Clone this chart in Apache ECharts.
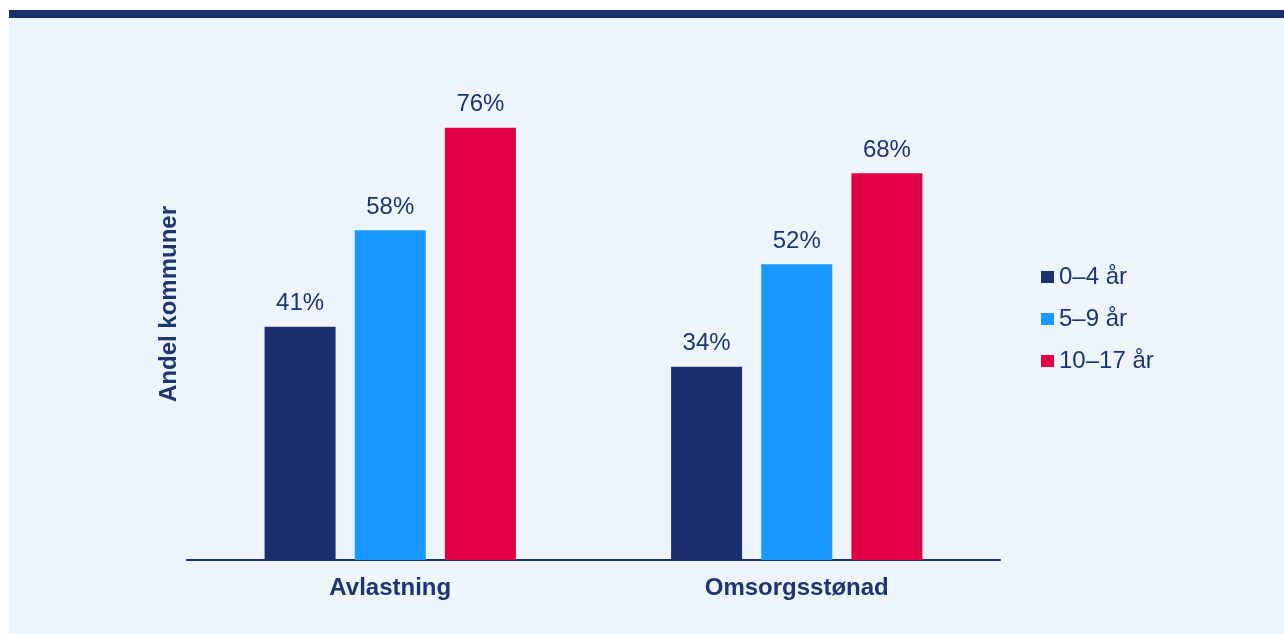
<!DOCTYPE html>
<html>
<head>
<meta charset="utf-8">
<script src="https://cdn.jsdelivr.net/npm/echarts@6/dist/echarts.min.js"></script>
<style>
  html, body { margin: 0; padding: 0; background: #ffffff; }
  #chart { width: 1284px; height: 634px; }
</style>
</head>
<body>
<div id="chart"></div>
<script>
const categories = ['Avlastning', 'Omsorgsstønad'];
const seriesNames = ['0–4 år', '5–9 år', '10–17 år'];
const age0to4 = [41, 34];
const age5to9 = [58, 52];
const age10to17 = [76, 68];

const navy = '#1A306E';
const textColor = '#1D3570';
const colors = [navy, '#1899FF', '#E10045'];
const values = [age0to4, age5to9, age10to17];

const chart = echarts.init(document.getElementById('chart'), null, { renderer: 'canvas' });
const font = 'Liberation Sans, Arial, sans-serif';

chart.setOption({
  animation: false,
  textStyle: { fontFamily: font },
  graphic: [
    { type: 'rect', z: -10, shape: { x: 9, y: 10, width: 1275, height: 624 }, style: { fill: '#EEF4FB' } },
    { type: 'rect', z: -9, shape: { x: 9, y: 10, width: 1275, height: 8 }, style: { fill: navy } },
    {
      type: 'text', x: 169, y: 304, rotation: Math.PI / 2,
      style: {
        text: 'Andel kommuner', fill: textColor, fontFamily: font,
        fontSize: 24, fontWeight: 'bold', align: 'center', verticalAlign: 'middle'
      }
    }
  ],
  grid: { left: 187, right: 284, top: 105, bottom: 74 },
  legend: {
    orient: 'vertical', left: 1041, top: 265, padding: 0,
    icon: 'rect', itemWidth: 13, itemHeight: 12, itemGap: 18, itemStyle: { borderWidth: 0 },
    textStyle: { color: textColor, fontSize: 24, fontFamily: font, lineHeight: 24, padding: [0, 0, 0, 0] },
    data: seriesNames
  },
  xAxis: {
    type: 'category', data: categories,
    axisLine: { lineStyle: { color: navy, width: 2 } },
    axisTick: { show: false },
    axisLabel: { color: textColor, fontSize: 24, fontWeight: 'bold', margin: 16, fontFamily: font }
  },
  yAxis: {
    type: 'value', min: 0, max: 80,
    axisLine: { show: false }, axisTick: { show: false },
    axisLabel: { show: false }, splitLine: { show: false }
  },
  series: seriesNames.map((name, i) => ({
    name, type: 'bar', data: values[i],
    barWidth: 71, barGap: '27%',
    itemStyle: { color: colors[i] },
    label: {
      show: true, position: 'top', distance: 11,
      formatter: '{c}%', color: textColor, fontSize: 24, fontFamily: font
    }
  }))
});
</script>
</body>
</html>
